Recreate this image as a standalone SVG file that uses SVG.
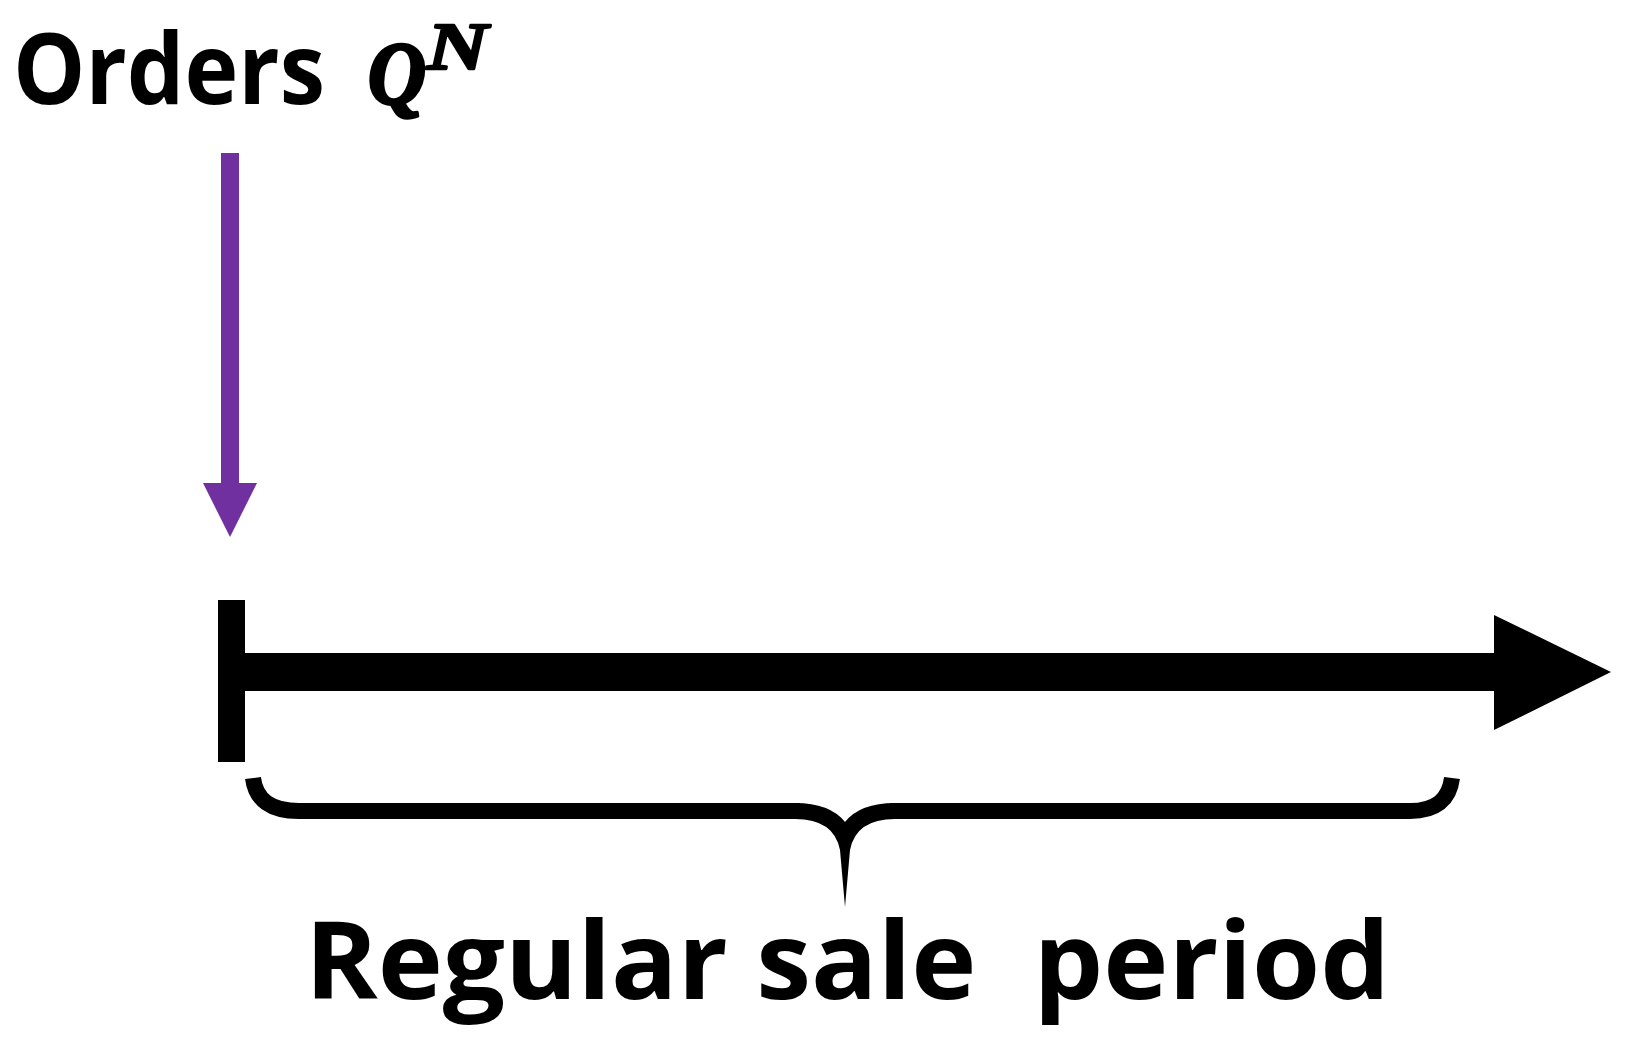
<svg xmlns="http://www.w3.org/2000/svg" width="1635" height="1050" viewBox="0 0 1635 1050">
<style>
.lbl{font-family:"Open Sans","Noto Sans","Liberation Sans",sans-serif;font-weight:700;fill:#000;white-space:pre}
.math{font-family:"Liberation Serif","DejaVu Serif",serif;font-weight:bold;font-style:italic;fill:#000;stroke:#000;stroke-linejoin:round}
</style>
<rect width="1635" height="1050" fill="#fff"/>
<g id="orders-label">
<text class="lbl" x="13" y="104" font-size="98" textLength="312" lengthAdjust="spacingAndGlyphs">Orders</text>
<text class="math" x="368" y="103" font-size="88" stroke-width="3.5" textLength="58" lengthAdjust="spacingAndGlyphs">Q</text>
<text class="math" x="427" y="69" font-size="68" stroke-width="2.5" textLength="61" lengthAdjust="spacingAndGlyphs">N</text>
</g>
<g id="connectors">
<rect x="221" y="153" width="18" height="332" fill="#7030A0"/>
<polygon points="203,483 257,483 230,537" fill="#7030A0"/>
</g>
<g id="timeline">
<rect x="218" y="600" width="27" height="162" fill="#000"/>
<rect x="245" y="653" width="1252" height="38" fill="#000"/>
<polygon points="1494,615 1611,672 1494,730" fill="#000"/>
</g>
<g id="brace">
<path d="M253 778 Q257 811 299 811 L800 811 M890 811 L1410 811 Q1448 811 1452 778" fill="none" stroke="#000" stroke-width="16"/>
<path d="M795 803 Q830 803 845 822 Q860 803 895 803 L895 819 Q856 819 850 850 L845 907 L840 850 Q834 819 795 819 Z" fill="#000"/>
</g>
<g id="period-label">
<text class="lbl" x="305" y="999" font-size="108" textLength="1085" lengthAdjust="spacingAndGlyphs">Regular sale  period</text>
</g>
</svg>
